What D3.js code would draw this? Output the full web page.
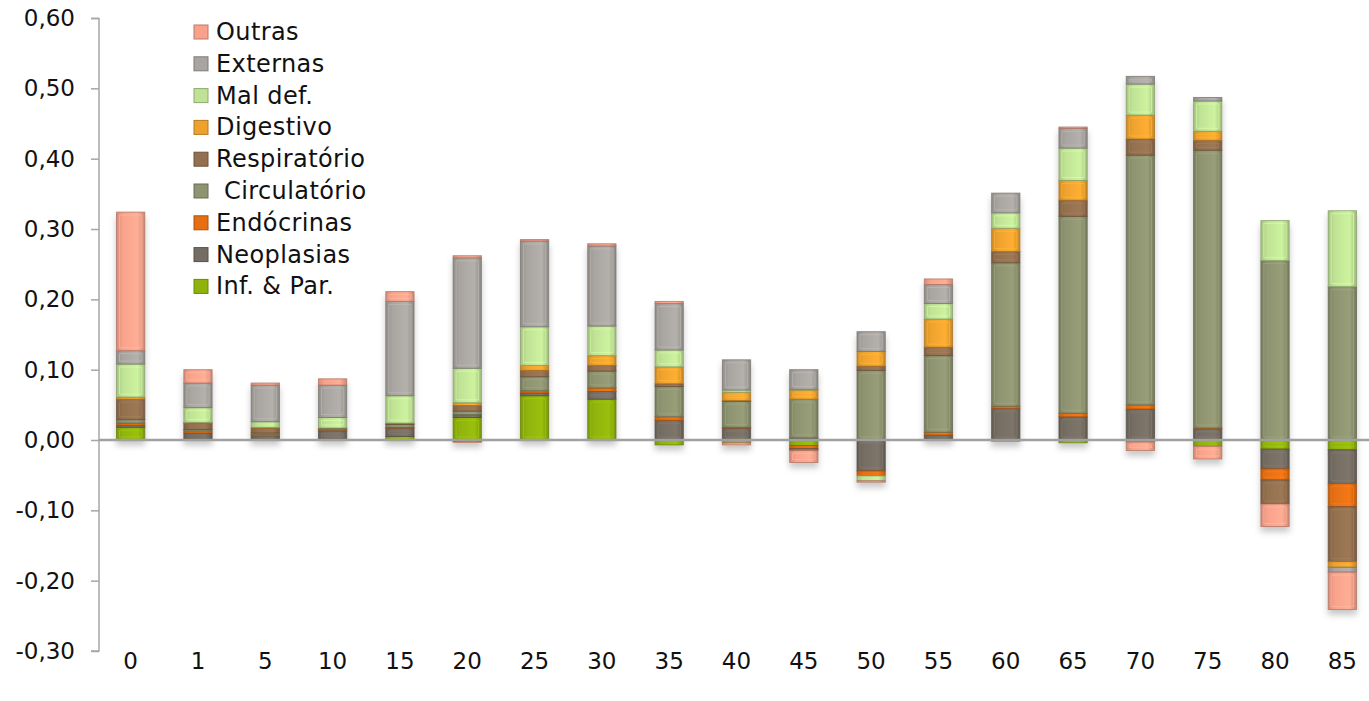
<!DOCTYPE html>
<html>
<head>
<meta charset="utf-8">
<script src="https://cdn.jsdelivr.net/npm/d3@7"></script>
<style>
  body { margin: 0; background: #fff; }
  text { font-family: "DejaVu Sans", "Noto Sans", sans-serif; fill: #111; }
</style>
</head>
<body>
<div class="chart"></div>
<script>
// Age groups (x categories)
const ages = ["0", "1", "5", "10", "15", "20", "25", "30", "35", "40", "45", "50", "55", "60", "65", "70", "75", "80", "85"];

// Contribution of each cause, per age group
const infPar       = [0.018, 0.001, 0.001, 0.001, 0.005, 0.032, 0.063, 0.058, -0.007, -0.004, -0.008, 0, 0.001, 0, -0.004, -0.003, -0.009, -0.013, -0.014];
const neoplasias   = [0.003, 0.009, 0.005, 0.012, 0.012, 0.004, 0.004, 0.011, 0.028, 0.017, 0.003, -0.044, 0.006, 0.045, 0.033, 0.044, 0.016, -0.028, -0.048];
const endocrinas   = [0.003, 0.003, 0.002, 0.001, 0.001, -0.003, 0.003, 0.005, 0.005, 0.001, -0.004, -0.007, 0.004, 0.003, 0.005, 0.006, 0.001, -0.016, -0.033];
const circulatorio = [0.005, 0.002, 0.002, 0.002, 0.004, 0.005, 0.020, 0.024, 0.043, 0.037, 0.055, 0.099, 0.109, 0.204, 0.280, 0.355, 0.395, 0.255, 0.218];
const respiratorio = [0.029, 0.009, 0.007, 0.001, 0.002, 0.008, 0.009, 0.008, 0.004, 0.001, -0.003, 0.006, 0.012, 0.016, 0.023, 0.023, 0.014, -0.034, -0.078];
const digestivo    = [0.003, 0.001, 0.001, 0, 0, 0.004, 0.007, 0.014, 0.024, 0.012, 0.013, 0.021, 0.040, 0.033, 0.028, 0.034, 0.013, 0, -0.008];
const malDef       = [0.047, 0.021, 0.008, 0.015, 0.039, 0.049, 0.055, 0.042, 0.024, 0.003, 0.001, -0.007, 0.022, 0.022, 0.046, 0.044, 0.043, 0.057, 0.108];
const externas     = [0.019, 0.035, 0.052, 0.046, 0.134, 0.157, 0.122, 0.114, 0.066, 0.043, 0.028, 0.028, 0.027, 0.028, 0.028, 0.011, 0.005, 0, -0.007];
const outras       = [0.197, 0.019, 0.003, 0.009, 0.014, 0.003, 0.002, 0.003, 0.003, -0.003, -0.017, -0.002, 0.008, -0.002, 0.002, -0.012, -0.018, -0.032, -0.053];

// Series in stacking order (bottom first)
const seriesNames = ["Inf. & Par.", "Neoplasias", "Endócrinas", " Circulatório", "Respiratório", "Digestivo", "Mal def.", "Externas", "Outras"];
const seriesValues = [infPar, neoplasias, endocrinas, circulatorio, respiratorio, digestivo, malDef, externas, outras];
const seriesColors = ["#8fb30c", "#756d63", "#e56f12", "#8e9370", "#93704f", "#eea22e", "#bfe294", "#a8a49f", "#f9a28b"];

const yTicks = [-0.3, -0.2, -0.1, 0, 0.1, 0.2, 0.3, 0.4, 0.5, 0.6];

const width = 1369;
const height = 701;

const svg = d3.select(".chart")
    .append("svg")
    .attr("width", width)
    .attr("height", height);

const defs = svg.append("defs");

// Soft shadow under the bars
const shadow = defs.append("filter")
    .attr("id", "shadow")
    .attr("x", "-30%").attr("y", "-10%")
    .attr("width", "160%").attr("height", "130%");
shadow.append("feDropShadow")
    .attr("dx", 0).attr("dy", 5)
    .attr("stdDeviation", 3)
    .attr("flood-color", "#000")
    .attr("flood-opacity", 0.22);

// Horizontal gradient per series, to give the bars a bevelled look
seriesColors.forEach((c, i) => {
    const g = defs.append("linearGradient")
        .attr("id", "grad" + i)
        .attr("x1", 0).attr("x2", 1).attr("y1", 0).attr("y2", 0);
    g.append("stop").attr("offset", "0%").attr("stop-color", d3.color(c).darker(0.4));
    g.append("stop").attr("offset", "22%").attr("stop-color", c);
    g.append("stop").attr("offset", "75%").attr("stop-color", d3.color(c).brighter(0.2));
    g.append("stop").attr("offset", "100%").attr("stop-color", d3.color(c).darker(0.5));
});

// Scales
const x = d3.scaleBand()
    .domain(ages)
    .range([97, 1376])
    .paddingInner(0.58)
    .paddingOuter(0.29);

const y = d3.scaleLinear()
    .domain([-0.3, 0.6])
    .range([651, 18]);

// Build a table and stack it with diverging offset
const table = ages.map((a, i) => {
    const row = { age: a };
    seriesNames.forEach((n, k) => { row[n] = seriesValues[k][i]; });
    return row;
});

const stack = d3.stack()
    .keys(seriesNames)
    .offset(d3.stackOffsetDiverging);
const layers = stack(table);

// Y axis, comma decimals and a plain hyphen for negatives
const yAxis = d3.axisLeft(y)
    .tickValues(yTicks)
    .tickSize(8)
    .tickPadding(16)
    .tickFormat(d => (d < 0 ? "-" : "") + Math.abs(d).toFixed(2).replace(".", ","));

const gY = svg.append("g")
    .attr("transform", "translate(99,0)")
    .call(yAxis);
gY.select(".domain").attr("stroke", "#a6a6a6").attr("stroke-width", 1.5)
    .attr("d", "M-8,18.5H0V651H-8");
gY.selectAll(".tick line").attr("stroke", "#a6a6a6").attr("stroke-width", 1.5);
gY.selectAll(".tick text")
    .style("font-size", "23px")
    .style("font-family", "'DejaVu Sans', 'Noto Sans', sans-serif")
    .attr("fill", "#111");

// Bars
const barsG = svg.append("g").attr("filter", "url(#shadow)");

layers.forEach((layer, i) => {
    const base = seriesColors[i];
    const g = barsG.append("g");
    const segs = layer.filter(d => Math.abs(d[1] - d[0]) > 0.0000001);

    g.selectAll("rect.face")
        .data(segs)
        .enter()
        .append("rect")
        .attr("class", "face")
        .attr("x", d => x(d.data.age))
        .attr("width", x.bandwidth())
        .attr("y", d => y(Math.max(d[0], d[1])))
        .attr("height", d => Math.abs(y(d[0]) - y(d[1])))
        .attr("fill", "url(#grad" + i + ")")
        .attr("stroke", d3.color(base).darker(1))
        .attr("stroke-opacity", 0.75)
        .attr("stroke-width", 1);

    // inner bevel rim
    g.selectAll("rect.rim")
        .data(segs.filter(d => Math.abs(y(d[0]) - y(d[1])) > 7))
        .enter()
        .append("rect")
        .attr("class", "rim")
        .attr("x", d => x(d.data.age) + 3)
        .attr("width", x.bandwidth() - 6)
        .attr("y", d => y(Math.max(d[0], d[1])) + 3)
        .attr("height", d => Math.abs(y(d[0]) - y(d[1])) - 6)
        .attr("fill", "none")
        .attr("stroke", d3.color(base).brighter(0.4))
        .attr("stroke-opacity", 0.6)
        .attr("stroke-width", 1);
});

// Zero line
svg.append("line")
    .attr("x1", 99).attr("x2", width)
    .attr("y1", y(0)).attr("y2", y(0))
    .attr("stroke", "#a0a0a0")
    .attr("stroke-width", 2.5);

// X labels
svg.append("g")
    .selectAll("text")
    .data(ages)
    .enter()
    .append("text")
    .attr("x", d => x(d) + x.bandwidth() / 2)
    .attr("y", 669)
    .attr("text-anchor", "middle")
    .style("font-size", "23px")
    .text(d => d);

// Legend (top entry is the last series)
const legend = svg.append("g").attr("transform", "translate(194,22)");
const legendItems = seriesNames.map((n, i) => ({ name: n, color: seriesColors[i] })).reverse();

const li = legend.selectAll("g")
    .data(legendItems)
    .enter()
    .append("g")
    .attr("transform", (d, i) => `translate(0, ${i * 31.8})`);

li.append("rect")
    .attr("width", 14).attr("height", 14)
    .attr("y", 3)
    .attr("fill", d => d.color)
    .attr("stroke", d => d3.color(d.color).darker(0.8))
    .attr("stroke-width", 1);

li.append("text")
    .attr("x", 22)
    .attr("y", 18)
    .style("font-size", "24px")
    .style("letter-spacing", "0.4px")
    .style("white-space", "pre")
    .text(d => d.name);
</script>
</body>
</html>
